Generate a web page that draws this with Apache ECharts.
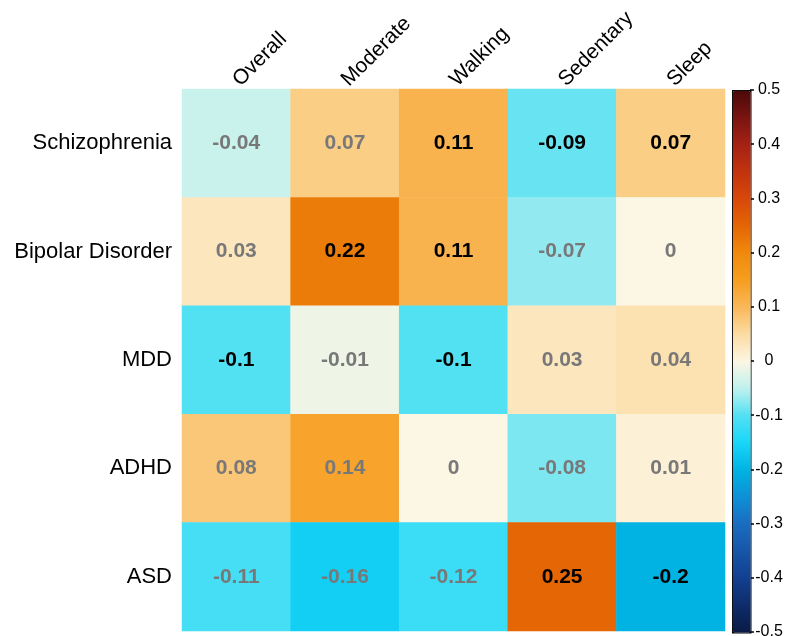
<!DOCTYPE html>
<html>
<head>
<meta charset="utf-8">
<script src="https://cdn.jsdelivr.net/npm/echarts@6/dist/echarts.min.js"></script>
<style>
html,body{margin:0;padding:0;background:#fff;}
#chart{width:785px;height:636px;}
</style>
</head>
<body>
<div id="chart"></div>
<script>
var measures = ['Overall', 'Moderate', 'Walking', 'Sedentary', 'Sleep'];
var disorders = ['Schizophrenia', 'Bipolar Disorder', 'MDD', 'ADHD', 'ASD'];
var schizophrenia = [-0.04, 0.07, 0.11, -0.09, 0.07];
var bipolar = [0.03, 0.22, 0.11, -0.07, 0];
var mdd = [-0.1, -0.01, -0.1, 0.03, 0.04];
var adhd = [0.08, 0.14, 0, -0.08, 0.01];
var asd = [-0.11, -0.16, -0.12, 0.25, -0.2];
var sigSchizophrenia = [0, 0, 1, 1, 1];
var sigBipolar = [0, 1, 1, 0, 0];
var sigMdd = [1, 0, 1, 0, 0];
var sigAdhd = [0, 0, 0, 0, 0];
var sigAsd = [0, 0, 0, 1, 1];
var colorbarTicks = [-0.5, -0.4, -0.3, -0.2, -0.1, 0, 0.1, 0.2, 0.3, 0.4, 0.5];

var rows = [schizophrenia, bipolar, mdd, adhd, asd];
var sigRows = [sigSchizophrenia, sigBipolar, sigMdd, sigAdhd, sigAsd];
var data = [];
rows.forEach(function (row, r) {
  row.forEach(function (v, c) {
    data.push({
      value: [c, r, v],
      label: { color: sigRows[r][c] ? '#000000' : '#787878' }
    });
  });
});

var palette = [
  '#0a1a45', '#0e2c6a', '#123f8f', '#1656a8', '#1a6cc0', '#0e90d6',
  '#00b3e3', '#18d6f8', '#52e0f3', '#bdf1ee', '#fcf6e4',
  '#fcdca4', '#f9b85a', '#f79e20', '#f08a0e', '#e56604',
  '#d8480a', '#c2330e', '#a52214', '#7a1410', '#4a0a0a'
];

var chart = echarts.init(document.getElementById('chart'));
chart.setOption({
  animation: false,
  textStyle: { fontFamily: 'Liberation Sans, Arial, sans-serif' },
  grid: [
    { left: 182, right: 60, top: 89, bottom: 5, outerBoundsMode: 'none', containLabel: false },
    { left: 732, width: 18, top: 90, bottom: 4, outerBoundsMode: 'none', containLabel: false }
  ],
  xAxis: [
    {
      type: 'category', data: measures, position: 'top', gridIndex: 0,
      axisLine: { show: false }, axisTick: { show: false }, splitArea: { show: false },
      axisLabel: { rotate: -45, fontSize: 21, color: '#000', margin: 6, interval: 0 }
    },
    {
      type: 'category', data: [''], gridIndex: 1, show: false
    }
  ],
  yAxis: [
    {
      type: 'category', data: disorders, inverse: true, gridIndex: 0,
      axisLine: { show: false }, axisTick: { show: false },
      axisLabel: { fontSize: 22, color: '#000', margin: 10 }
    },
    {
      type: 'value', gridIndex: 1, position: 'right',
      min: colorbarTicks[0], max: colorbarTicks[colorbarTicks.length - 1], interval: 0.1,
      axisLine: { show: false },
      axisTick: { show: true, length: 4, lineStyle: { color: '#000', width: 1.5 } },
      splitLine: { show: false },
      axisLabel: {
        fontSize: 16, color: '#000', margin: 19, align: 'center',
        formatter: function (v) { return String(Math.round(v * 10) / 10); }
      }
    }
  ],
  visualMap: {
    type: 'continuous',
    min: -0.5, max: 0.5,
    calculable: false,
    orient: 'vertical',
    left: 732, top: 90,
    itemWidth: 18, itemHeight: 542,
    padding: 0,
    text: null,
    showLabel: false,
    borderColor: '#000', borderWidth: 1.5,
    seriesIndex: 0,
    inRange: { color: palette }
  },
  series: [
    {
      type: 'heatmap',
      xAxisIndex: 0, yAxisIndex: 0,
      data: data,
      label: {
        show: true, fontSize: 21, fontWeight: 'bold',
        formatter: function (p) { return String(p.value[2]); }
      },
      itemStyle: { borderWidth: 0 },
      emphasis: { disabled: true }
    },
    {
      type: 'line', xAxisIndex: 1, yAxisIndex: 1, data: [], silent: true
    }
  ]
});
</script>
</body>
</html>
